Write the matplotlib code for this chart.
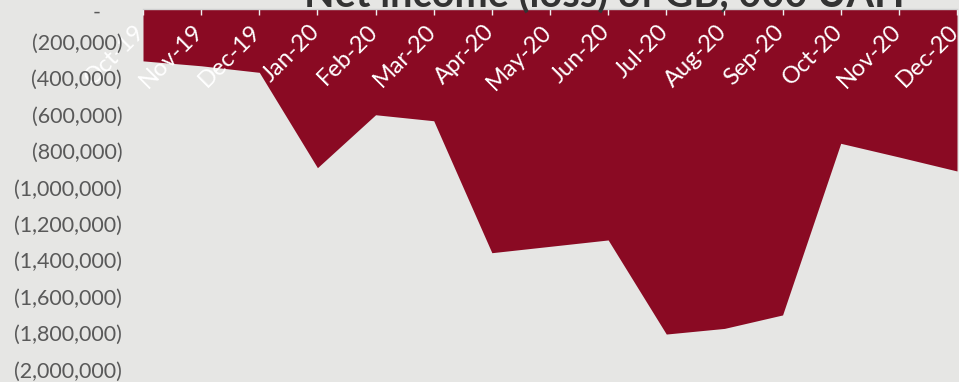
import matplotlib
matplotlib.use("Agg")
import matplotlib.pyplot as plt
import matplotlib.transforms as mtransforms
from matplotlib.ticker import FuncFormatter

months = ["Oct-19", "Nov-19", "Dec-19", "Jan-20", "Feb-20", "Mar-20", "Apr-20", "May-20",
          "Jun-20", "Jul-20", "Aug-20", "Sep-20", "Oct-20", "Nov-20", "Dec-20"]
net_income = [-285000, -312000, -348000, -872000, -581000, -614000, -1339000, -1304000,
              -1269000, -1786000, -1755000, -1681000, -738000, -813000, -890000]
y_ticks = [0, -200000, -400000, -600000, -800000, -1000000, -1200000, -1400000,
           -1600000, -1800000, -2000000]
title = "Net income (loss) of GB, 000 UAH"

BG = "#E6E6E4"
RED = "#8A0A23"
GREY = "#595959"
FONT = ["Lato", "DejaVu Sans"]
plt.rcParams["font.family"] = FONT

W, H = 959, 382
fig = plt.figure(figsize=(W / 100, H / 100), dpi=100, facecolor=BG)
ax = fig.add_axes([143 / W, 1 - 373 / H, (957 - 143) / W, (373 - 9) / H])
ax.set_facecolor(BG)

x = list(range(len(months)))
ax.fill_between(x, net_income, 0, color=RED, linewidth=0)
ax.set_xlim(0, len(months) - 1)
ax.set_ylim(-2000000, 0)

# y axis
ax.set_yticks(y_ticks)
ax.yaxis.set_major_formatter(FuncFormatter(lambda v, p: "-" if v == 0 else f"({abs(v):,.0f})"))
ax.tick_params(axis="y", length=0, pad=15, labelsize=15.5, labelcolor=GREY)
yoff = mtransforms.ScaledTranslation(0, 3.5 / 100, fig.dpi_scale_trans)
zero_off = mtransforms.ScaledTranslation(-22 / 100, -5 / 100, fig.dpi_scale_trans)
for val, lab in zip(y_ticks, ax.get_yticklabels()):
    t = lab.get_transform() + yoff
    if val == 0:
        t = t + zero_off
    lab.set_transform(t)

# x axis at top, labels inside
ax.xaxis.tick_top()
ax.set_xticks(x)
ax.set_xticklabels(months)
ax.tick_params(axis="x", top=True, bottom=False, labeltop=True, labelbottom=False,
               direction="in", length=4, width=1, color="#F0F0F0",
               labelsize=17, labelcolor="white", pad=-8.5)
offset = mtransforms.ScaledTranslation(6 / 100, 0, fig.dpi_scale_trans)
for lab in ax.get_xticklabels():
    lab.set_rotation(45)
    lab.set_ha("right")
    lab.set_va("top")
    lab.set_transform(lab.get_transform() + offset)

for side in ["left", "right", "bottom"]:
    ax.spines[side].set_visible(False)
ax.spines["top"].set_color("#D0D0D0")
ax.spines["top"].set_linewidth(1)

fig.text(604 / W, 1 - 7.5 / H, title, ha="center", va="baseline",
         fontsize=28.5, fontweight="bold", color="#333333")

fig.savefig("out.png", dpi=100, facecolor=BG)
